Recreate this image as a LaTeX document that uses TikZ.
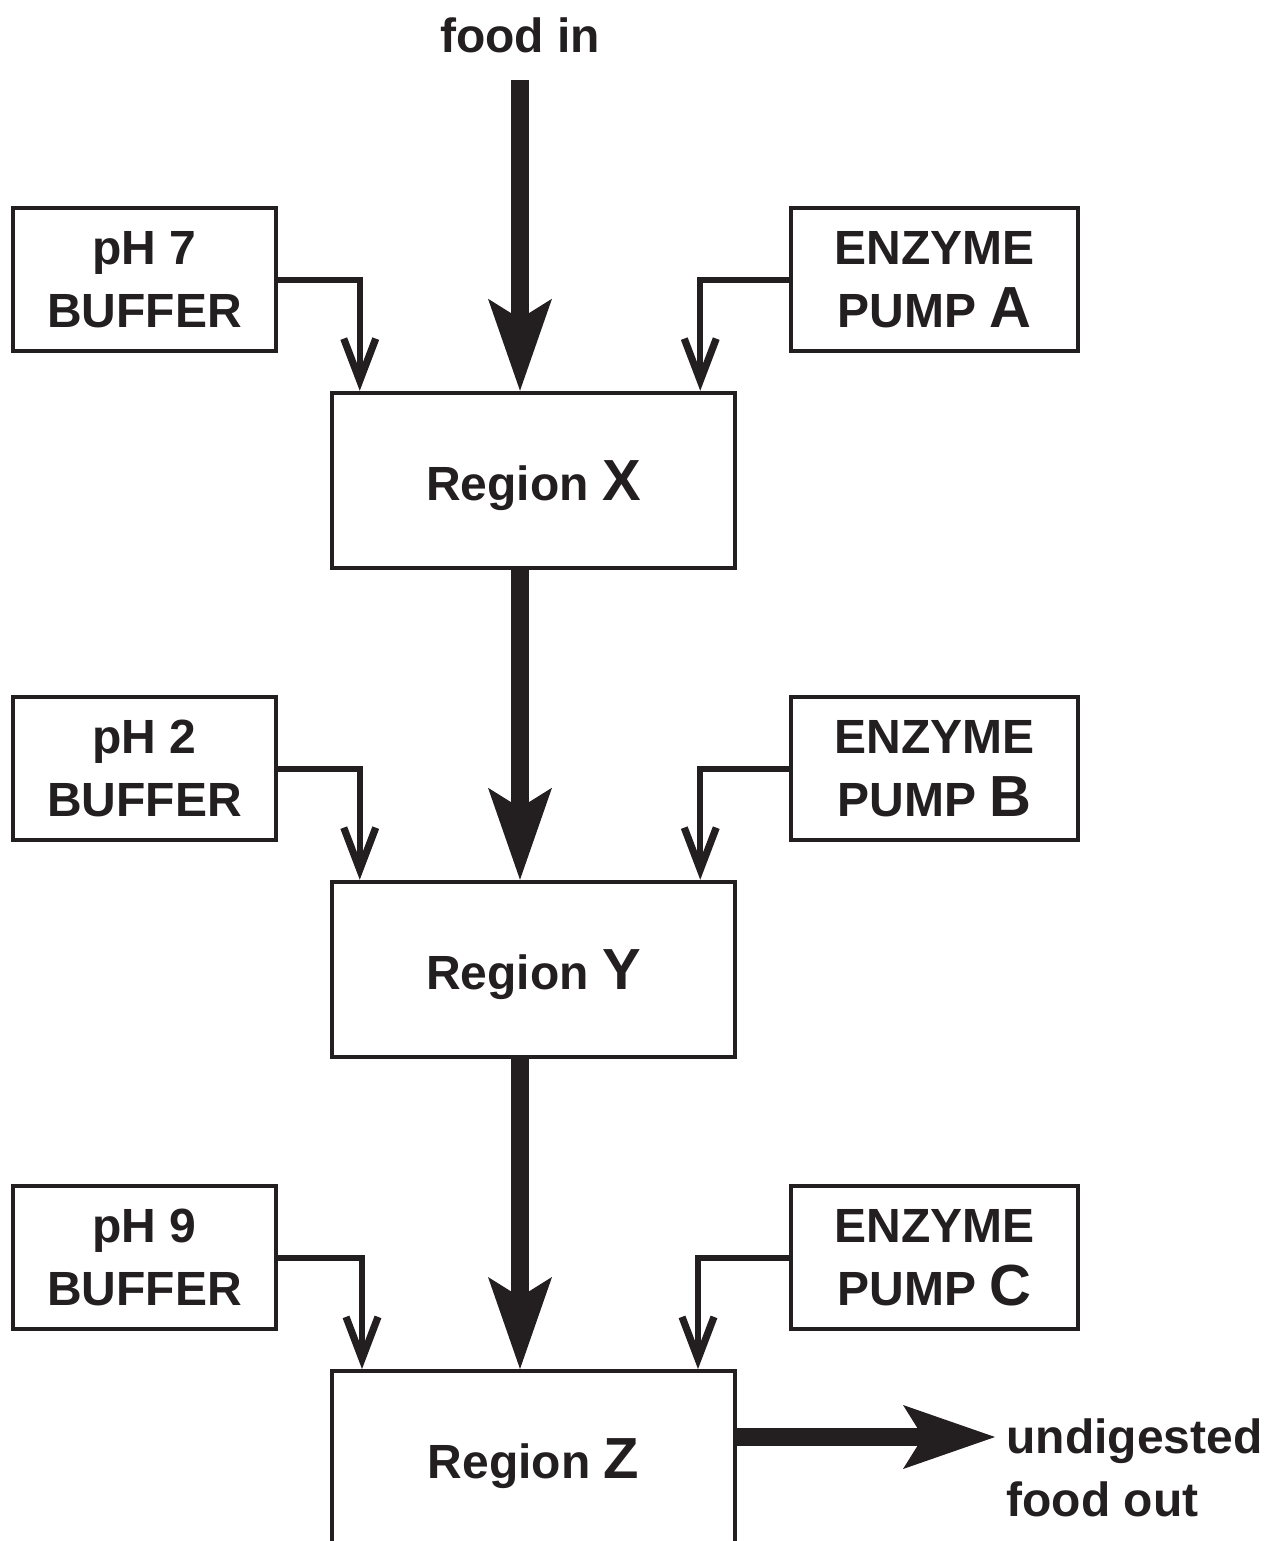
\documentclass[tikz,border=0pt]{standalone}
\usepackage{fontspec}
\setmainfont{Liberation Sans}
\usetikzlibrary{arrows.meta,calc}
\definecolor{ink}{HTML}{231F20}
\newcommand{\Lg}[1]{{\fontsize{29pt}{31.5pt}\selectfont #1}}
\begin{document}
\begin{tikzpicture}[x=0.5pt,y=-0.5pt,
  txt/.style={text=ink, inner sep=0pt, font=\bfseries\fontsize{24pt}{31.5pt}\selectfont},
  box/.style={txt, draw=ink, line width=2.25pt, align=center},
  bufbox/.style={box, minimum width=131.5pt, minimum height=71.5pt},
  pumpbox/.style={box, minimum width=143.5pt, minimum height=71.5pt},
  regbox/.style={box, minimum width=201.5pt, minimum height=87.5pt, text depth=0pt},
  flow/.style={draw=ink, line width=9pt, -{Stealth[length=46pt,width=32pt,inset=10pt,line width=0pt]}},
  feed/.style={draw=ink, line width=3pt, -{Straight Barb[length=21pt,width=16pt,line width=3.6pt]}},
]
\useasboundingbox (0,0) rectangle (1276,1541);

% row 1
\node[bufbox] (buf7) at (144.5,279.5) {pH 7\\BUFFER};
\node[pumpbox] (pumpA) at (934.5,279.5) {ENZYME\\PUMP \Lg{A}};
\node[regbox] (regX) at (533.5,480.5) {Region \Lg{X}};
% row 2
\node[bufbox] (buf2) at (144.5,768.5) {pH 2\\BUFFER};
\node[pumpbox] (pumpB) at (934.5,768.5) {ENZYME\\PUMP \Lg{B}};
\node[regbox] (regY) at (533.5,969.5) {Region \Lg{Y}};
% row 3
\node[bufbox] (buf9) at (144.5,1257.5) {pH 9\\BUFFER};
\node[pumpbox] (pumpC) at (934.5,1257.5) {ENZYME\\PUMP \Lg{C}};
\node[regbox, draw=none, outer sep=0pt] (regZ) at (533.5,1458.5) {Region \Lg{Z}};
\draw[draw=ink, line width=2.25pt] ($(regZ.south west)+(0,30)$) -- (regZ.north west) -- (regZ.north east) -- ($(regZ.south east)+(0,30)$);

% food in
\node[txt] (foodin) at (520,35) {food in};
\coordinate (fin) at (520,80);
\draw[flow] (fin) -- (regX.north -| fin);
\draw[flow] (regX.south -| fin) -- (regY.north -| fin);
\draw[flow] (regY.south -| fin) -- ($(regZ.north -| fin)+(0,-2)$);

% food out
\node[txt, anchor=west, align=left] (out) at (1006,1468) {undigested\\food out};
\coordinate (outtip) at (995,1437);
\draw[flow] ($(regZ.east |- outtip)+(2,0)$) -- (outtip);

% feeds
\draw[feed] (buf7.east) -| ($(regX.north west)+(30,0)$);
\draw[feed] (pumpA.west) -| ($(regX.north east)+(-37,0)$);
\draw[feed] (buf2.east) -| ($(regY.north west)+(30,0)$);
\draw[feed] (pumpB.west) -| ($(regY.north east)+(-37,0)$);
\draw[feed] (buf9.east) -| ($(regZ.north west)+(30,-2)$);
\draw[feed] (pumpC.west) -| ($(regZ.north east)+(-37,-2)$);
\end{tikzpicture}
\end{document}
